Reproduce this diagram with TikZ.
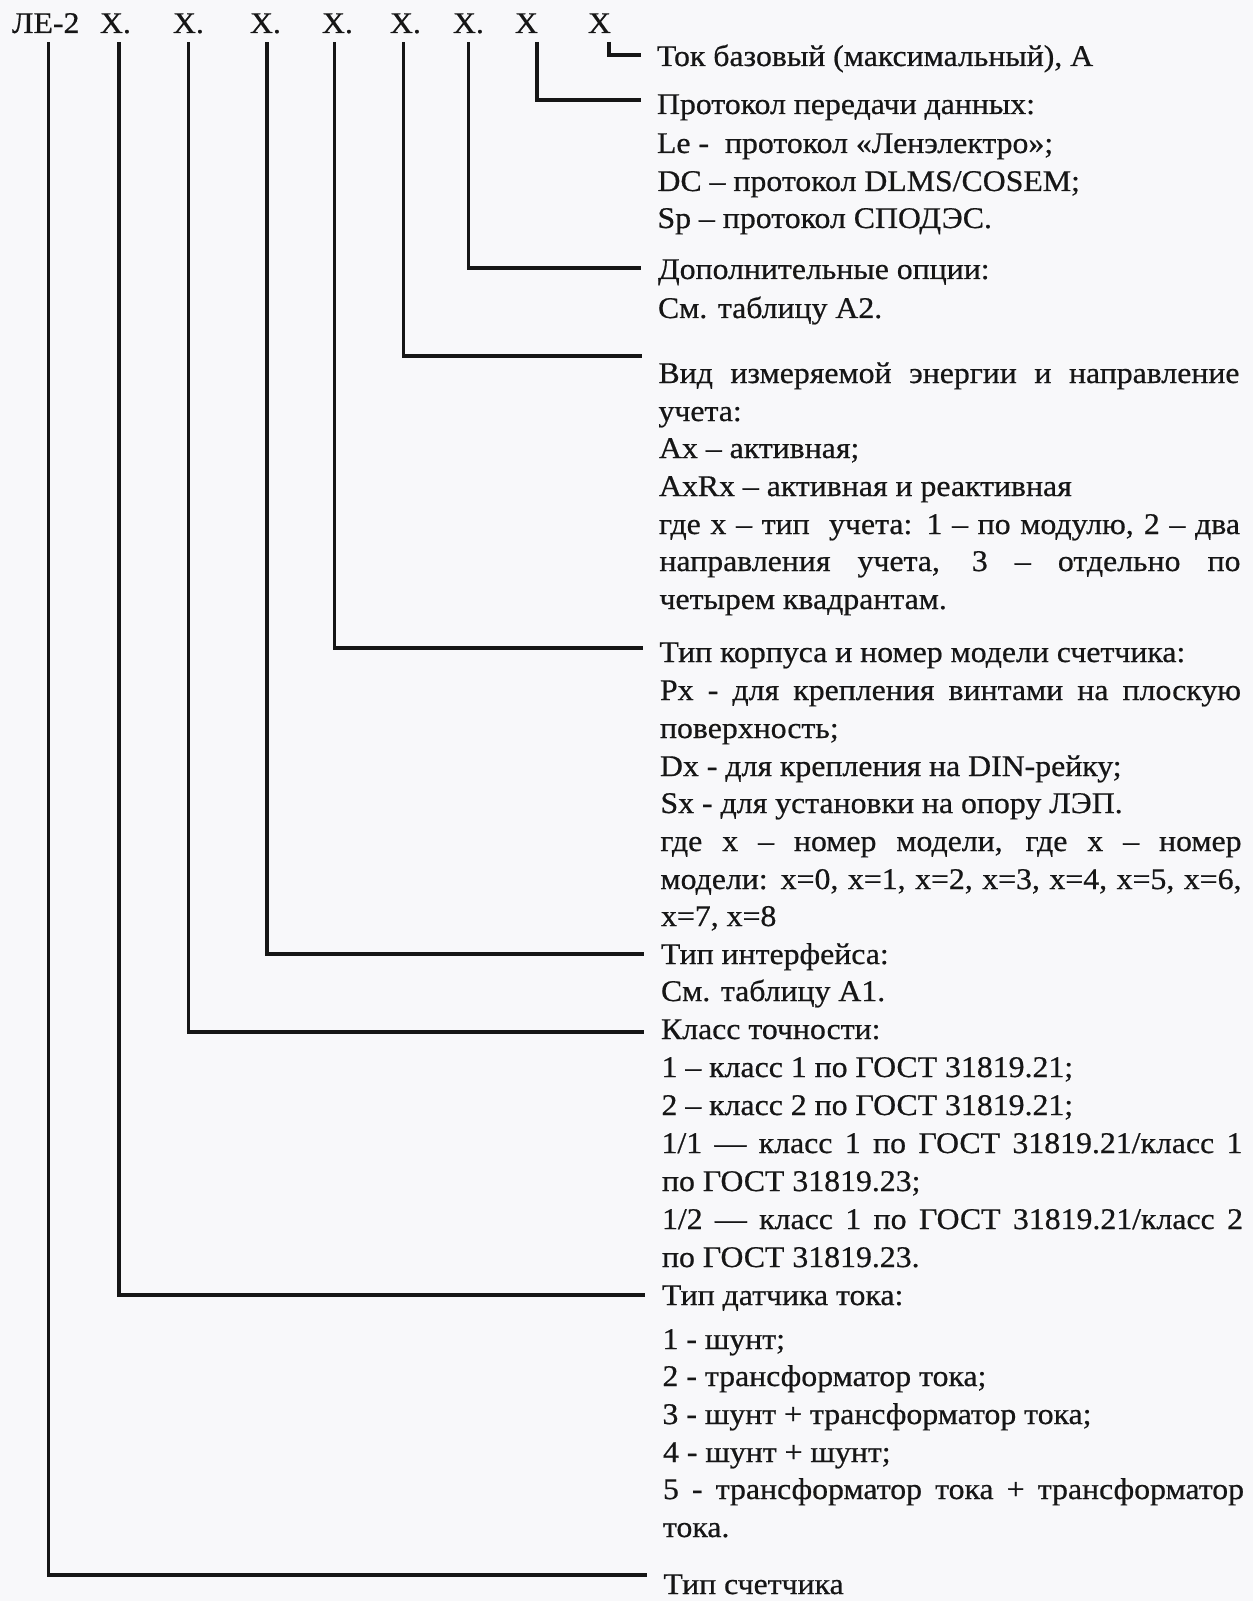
\documentclass[tikz,border=0pt]{standalone}
\usepackage{fontspec}
\setmainfont{Liberation Serif}[FakeStretch=1.06,FakeBold=0.6]
\definecolor{paper}{RGB}{248,248,250}
\definecolor{ink}{RGB}{22,22,22}
\newlength\colw
\setlength\colw{435.75pt}
\newcommand\jline[1]{\makebox[\colw][s]{#1}}
\begin{document}
\begin{tikzpicture}[x=0.75pt,y=-0.75pt,
  txt/.style={anchor=base west,inner sep=0pt,outer sep=0pt,text=ink,font=\fontsize{22.5pt}{27pt}\selectfont},
  conn/.style={draw=ink,line width=2.6pt}]
\fill[paper] (0,0) rectangle (1253,1601);
\useasboundingbox (0,0) rectangle (1253,1601);
% code tokens
\node[txt] (t0) at (12,33) {ЛЕ-2};
\node[txt] (t1) at (100,33) {X.};
\node[txt] (t2) at (173,33) {X.};
\node[txt] (t3) at (250,33) {X.};
\node[txt] (t4) at (322,33) {X.};
\node[txt] (t5) at (390,33) {X.};
\node[txt] (t6) at (453,33) {X.};
\node[txt] (t7) at (515,33) {X};
\node[txt] (t8) at (588,33) {X};
% connector ends
\coordinate (e8) at (641,55);
\coordinate (e7) at (641,100);
\coordinate (e6) at (641,268);
\coordinate (e5) at (642,356);
\coordinate (e4) at (643,648);
\coordinate (e3) at (644,954);
\coordinate (e2) at (644,1032);
\coordinate (e1) at (645,1295);
\coordinate (e0) at (647,1575);
% connectors
\draw[conn] ([shift={(2.5,9)}]t0.south) |- (e0);
\draw[conn] ([shift={(3.4,9)}]t1.south) |- (e1);
\draw[conn] ([shift={(-0.2,9)}]t2.south) |- (e2);
\draw[conn] ([shift={(1.6,9)}]t3.south) |- (e3);
\draw[conn] ([shift={(-3.1,9)}]t4.south) |- (e4);
\draw[conn] ([shift={(-1.8,9)}]t5.south) |- (e5);
\draw[conn] ([shift={(-0.2,9)}]t6.south) |- (e6);
\draw[conn] ([shift={(10.5,9)}]t7.south) |- (e7);
\draw[conn] ([shift={(9.5,9)}]t8.south) |- (e8);
% descriptions
\node[txt] (l1) at (657,66) {Ток базовый (максимальный), А};
\node[txt] (l2) at (657,114) {Протокол передачи данных:};
\node[txt] (l3) at (657,153) {Le -~~протокол «Ленэлектро»;};
\node[txt] (l4) at (657.5,191) {DC – протокол DLMS/COSEM;};
\node[txt] (l5) at (657.5,228) {Sp – протокол СПОДЭС.};
\node[txt] (l6) at (658,279) {Дополнительные опции:};
\node[txt] (l7) at (658,318) {См. таблицу А2.};
\node[txt] (l8) at (658.5,383) {\jline{Вид измеряемой энергии и направление}};
\node[txt] (l9) at (658.5,421) {учета:};
\node[txt] (l10) at (659,458) {Ax – активная;};
\node[txt] (l11) at (659,496) {AxRx – активная и реактивная};
\node[txt] (l12) at (659,534) {\jline{где x – тип~~учета: 1 – по модулю, 2 – два}};
\node[txt] (l13) at (659.5,571) {\jline{направления учета, 3 – отдельно по}};
\node[txt] (l14) at (659.5,609) {четырем квадрантам.};
\node[txt] (l15) at (659.5,662) {Тип корпуса и номер модели счетчика:};
\node[txt] (l16) at (660,700) {\jline{Px - для крепления винтами на плоскую}};
\node[txt] (l17) at (660,738) {поверхность;};
\node[txt] (l18) at (660,776) {Dx - для крепления на DIN-рейку;};
\node[txt] (l19) at (660.5,813) {Sx - для установки на опору ЛЭП.};
\node[txt] (l20) at (660.5,851) {\jline{где x – номер модели, где x – номер}};
\node[txt] (l21) at (660.5,889) {\jline{модели: x=0, x=1, x=2, x=3, x=4, x=5, x=6,}};
\node[txt] (l22) at (661,926) {x=7, x=8};
\node[txt] (l23) at (661,964) {Тип интерфейса:};
\node[txt] (l24) at (661,1001) {См. таблицу А1.};
\node[txt] (l25) at (661,1039) {Класс точности:};
\node[txt] (l26) at (661.5,1077) {1 – класс 1 по ГОСТ 31819.21;};
\node[txt] (l27) at (661.5,1115) {2 – класс 2 по ГОСТ 31819.21;};
\node[txt] (l28) at (661.5,1153) {\jline{1/1 — класс 1 по ГОСТ 31819.21/класс 1}};
\node[txt] (l29) at (662,1191) {по ГОСТ 31819.23;};
\node[txt] (l30) at (662,1229) {\jline{1/2 — класс 1 по ГОСТ 31819.21/класс 2}};
\node[txt] (l31) at (662,1267) {по ГОСТ 31819.23.};
\node[txt] (l32) at (662,1305) {Тип датчика тока:};
\node[txt] (l33) at (662.5,1349) {1 - шунт;};
\node[txt] (l34) at (662.5,1386) {2 - трансформатор тока;};
\node[txt] (l35) at (662.5,1424) {3 - шунт + трансформатор тока;};
\node[txt] (l36) at (663,1462) {4 - шунт + шунт;};
\node[txt] (l37) at (663,1499) {\jline{5 - трансформатор тока + трансформатор}};
\node[txt] (l38) at (663,1537) {тока.};
\node[txt] (l39) at (663.5,1594) {Тип счетчика};
\end{tikzpicture}
\end{document}
